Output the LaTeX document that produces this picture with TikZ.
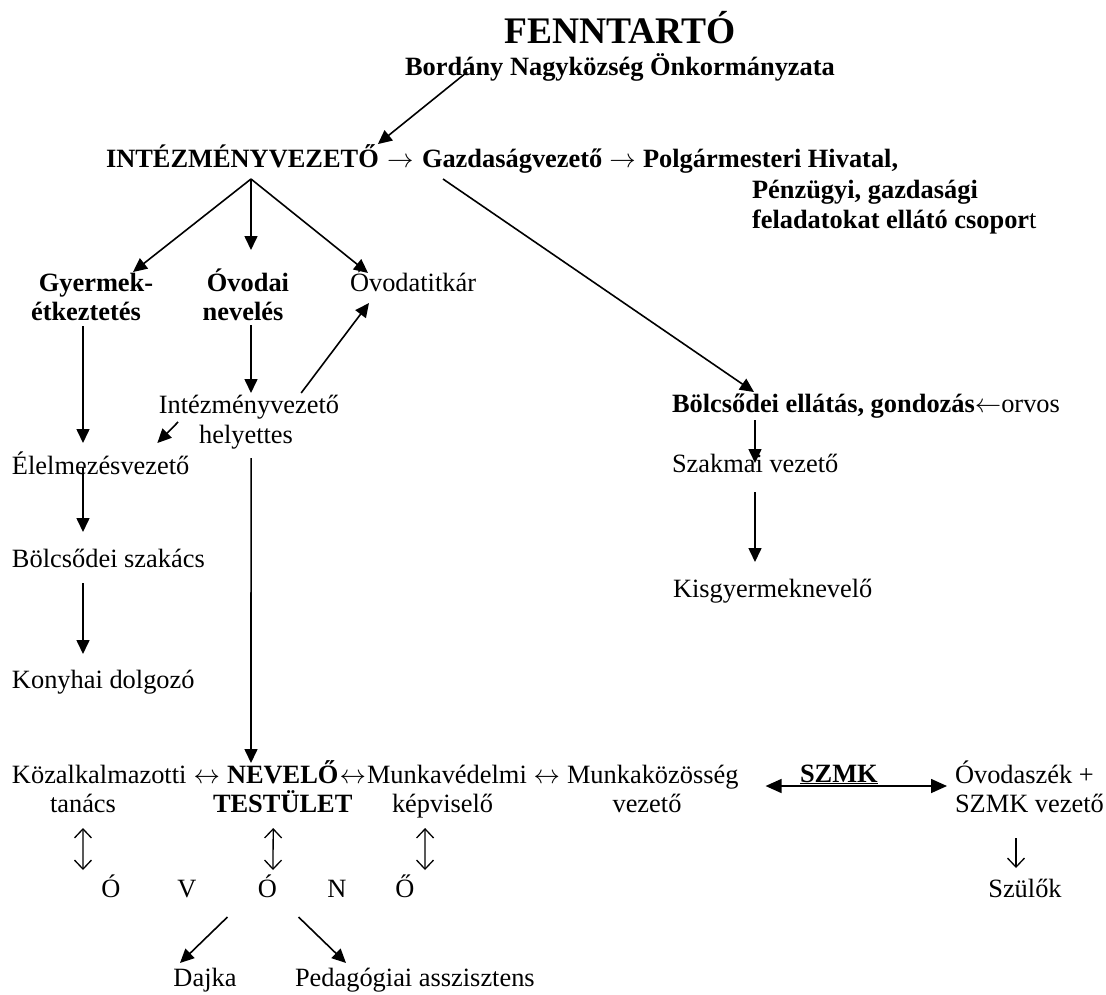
\RequirePackage{fix-cm}
\documentclass[tikz,border=0pt]{standalone}
\usepackage{fontspec}
\setmainfont{Liberation Serif}
\usetikzlibrary{arrows.meta,calc}
\begin{document}
\begin{tikzpicture}[x=1pt,y=-1pt,
  every node/.style={inner sep=0pt,outer sep=0pt,font=\fontsize{26.4}{30}\selectfont},
  bf/.style={font=\fontsize{26.4}{30}\selectfont\bfseries},
  big/.style={font=\fontsize{37.5}{42}\selectfont\bfseries},
  arr/.style={line width=1.6pt,-{Triangle[length=14pt,width=13pt]}},
  twohead/.style={line width=1.6pt,{Triangle[length=16pt,width=14pt]}-{Triangle[length=16pt,width=14pt]}},
  dbl/.style={line width=1.3pt,{Straight Barb[length=9pt,width=17pt]}-{Straight Barb[length=9pt,width=17pt]}},
  sgl/.style={line width=1.3pt,-{Straight Barb[length=9pt,width=17pt]}}]
\useasboundingbox (0,0) rectangle (1106,994);

% top
\node[big, anchor=base] (fenn) at (620,43) {FENNTARTÓ};
\node[bf, anchor=base] (bord) at (620,75) {Bordány Nagyközség Önkormányzata};

\node[bf, anchor=base west] (int) at (106,167) {INTÉZMÉNYVEZETŐ};
\node[bf, anchor=base west] (gazd) at (422,167) {Gazdaságvezető};
\node[bf, anchor=base west] (polg) at (643,167) {Polgármesteri Hivatal,};
\node[anchor=base] (ar1) at ($(int.base east)!0.5!(gazd.base west)$) {$\rightarrow$};
\node[anchor=base] (ar2) at ($(gazd.base east)!0.5!(polg.base west)$) {$\rightarrow$};
\node[bf, anchor=base west] (penz) at (752,198) {Pénzügyi, gazdasági};
\node[anchor=base west] (fela) at (752,228) {\textbf{feladatokat ellátó csopor}t};

% second level
\node[bf, anchor=base] (gyer1) at (96,291) {Gyermek-};
\node[bf, anchor=base] (gyer2) at (86,320) {étkeztetés};
\node[bf, anchor=base] (ovod1) at (248,291) {Óvodai};
\node[bf, anchor=base] (ovod2) at (243,320) {nevelés};
\node[anchor=base west] (titk) at (350,291) {Óvodatitkár};

\node[anchor=base] (hely1) at (249,413) {Intézményvezető};
\node[anchor=base] (hely2) at (246,443) {helyettes};

\node[anchor=base west] (elel) at (12,474) {Élelmezésvezető};
\node[anchor=base west] (szak) at (12,567) {Bölcsődei szakács};
\node[anchor=base west] (kony) at (12,688) {Konyhai dolgozó};

% right branch
\node[anchor=base west] (bolc) at (672,412) {\textbf{Bölcsődei ellátás, gondozás}$\leftarrow$orvos};
\node[anchor=base west] (szakm) at (672,472) {Szakmai vezető};
\node[anchor=base west] (kisgy) at (673,597) {Kisgyermeknevelő};

% bottom row
\node[anchor=base west] (koz1) at (12,783) {Közalkalmazotti};
\node[bf, anchor=base west] (nev1) at (227,783) {NEVELŐ};
\node[anchor=base west] (munk1) at (367,783) {Munkavédelmi};
\node[anchor=base west] (munk2) at (567,783) {Munkaközösség};
\node[anchor=base] (ar3) at ($(koz1.base east)!0.5!(nev1.base west)$) {$\leftrightarrow$};
\node[anchor=base] (ar4) at ($(nev1.base east)!0.5!(munk1.base west)$) {$\leftrightarrow$};
\node[anchor=base] (ar5) at ($(munk1.base east)!0.5!(munk2.base west)$) {$\leftrightarrow$};
\node[anchor=base west] (tan) at (50,812) {tanács};
\node[bf, anchor=base west] (test) at (213,812) {TESTÜLET};
\node[anchor=base west] (kep) at (392,812) {képviselő};
\node[anchor=base] (vez) at (647,812) {vezető};

\node[bf, anchor=base west] (szmk) at (800,782) {\underline{SZMK}};
\node[anchor=base west] (ovsz1) at (955,783) {Óvodaszék +};
\node[anchor=base west] (ovsz2) at (955,812) {SZMK vezető};
\node[anchor=base] (szul) at (1025,897) {Szülők};

\node[anchor=base] (ov1) at (111,897) {Ó};
\node[anchor=base] (ov2) at (187,897) {V};
\node[anchor=base] (ov3) at (267.5,897) {Ó};
\node[anchor=base] (ov4) at (337,897) {N};
\node[anchor=base] (ov5) at (405,897) {Ő};

\node[anchor=base] (dajka) at (205,986) {Dajka};
\node[anchor=base west] (ped) at (295,986) {Pedagógiai asszisztens};

% connectors
\draw[arr] ([xshift=62,yshift=3]bord.base west) -- ([xshift=-1]int.north east);
\draw[arr] ([xshift=145,yshift=-12]int.base west) -- ([xshift=37,yshift=19]gyer1.base);
\draw[arr] ([xshift=145,yshift=-12]int.base west) -- ([xshift=3,yshift=41]ovod1.base);
\draw[arr] ([xshift=145,yshift=-12]int.base west) -- ([xshift=18,yshift=18]titk.base west);
\draw[arr] ([xshift=21,yshift=-12]gazd.base west) -- ([xshift=82,yshift=20]bolc.base west);

\draw[arr] ([xshift=-3,yshift=-6]gyer2.base) -- ([xshift=71,yshift=31]elel.base west);
\draw[arr] ([xshift=8,yshift=-5]ovod2.base) -- ([xshift=2,yshift=20]hely1.base);
\draw[arr] ([xshift=-21,yshift=21]hely2.base west) -- ([xshift=-32,yshift=31]elel.base east);
\draw[arr] ([xshift=-38,yshift=20]hely1.base east) -- ([xshift=19,yshift=-12]titk.base west);
\draw[arr] ([xshift=52,yshift=-15]hely2.base west) -- ([xshift=24,yshift=20]nev1.base west);

\draw[arr] ([xshift=71,yshift=6]elel.base west) -- ([xshift=71,yshift=35]szak.base west);
\draw[arr] ([xshift=71,yshift=-16]szak.base west) -- ([xshift=71,yshift=34]kony.base west);

\draw[arr] ([xshift=83,yshift=-8]bolc.base west) -- ([xshift=83,yshift=9]szakm.base west);
\draw[arr] ([xshift=83,yshift=-20]szakm.base west) -- ([xshift=82,yshift=35]kisgy.base west);

\draw[twohead] ([xshift=27,yshift=-3]munk2.base east) -- ([xshift=-8,yshift=-3]ovsz1.base west);

\draw[dbl] ([yshift=-16]tan.base) -- ([xshift=-28,yshift=27]ov1.base);
\draw[dbl] ([xshift=-9.5,yshift=-16]test.base) -- ([xshift=5.5,yshift=27]ov3.base);
\draw[dbl] ([xshift=-17.5,yshift=-16]kep.base) -- ([xshift=20,yshift=27]ov5.base);
\draw[sgl] ([xshift=61,yshift=-26]ovsz2.base west) -- ([xshift=-9,yshift=29]szul.base);

\draw[arr] ([xshift=-40,yshift=-20]ov3.base) -- ([xshift=-25,yshift=23]dajka.base);
\draw[arr] ([xshift=31,yshift=-20]ov3.base) -- ([xshift=51,yshift=23]ped.base west);
\end{tikzpicture}
\end{document}
